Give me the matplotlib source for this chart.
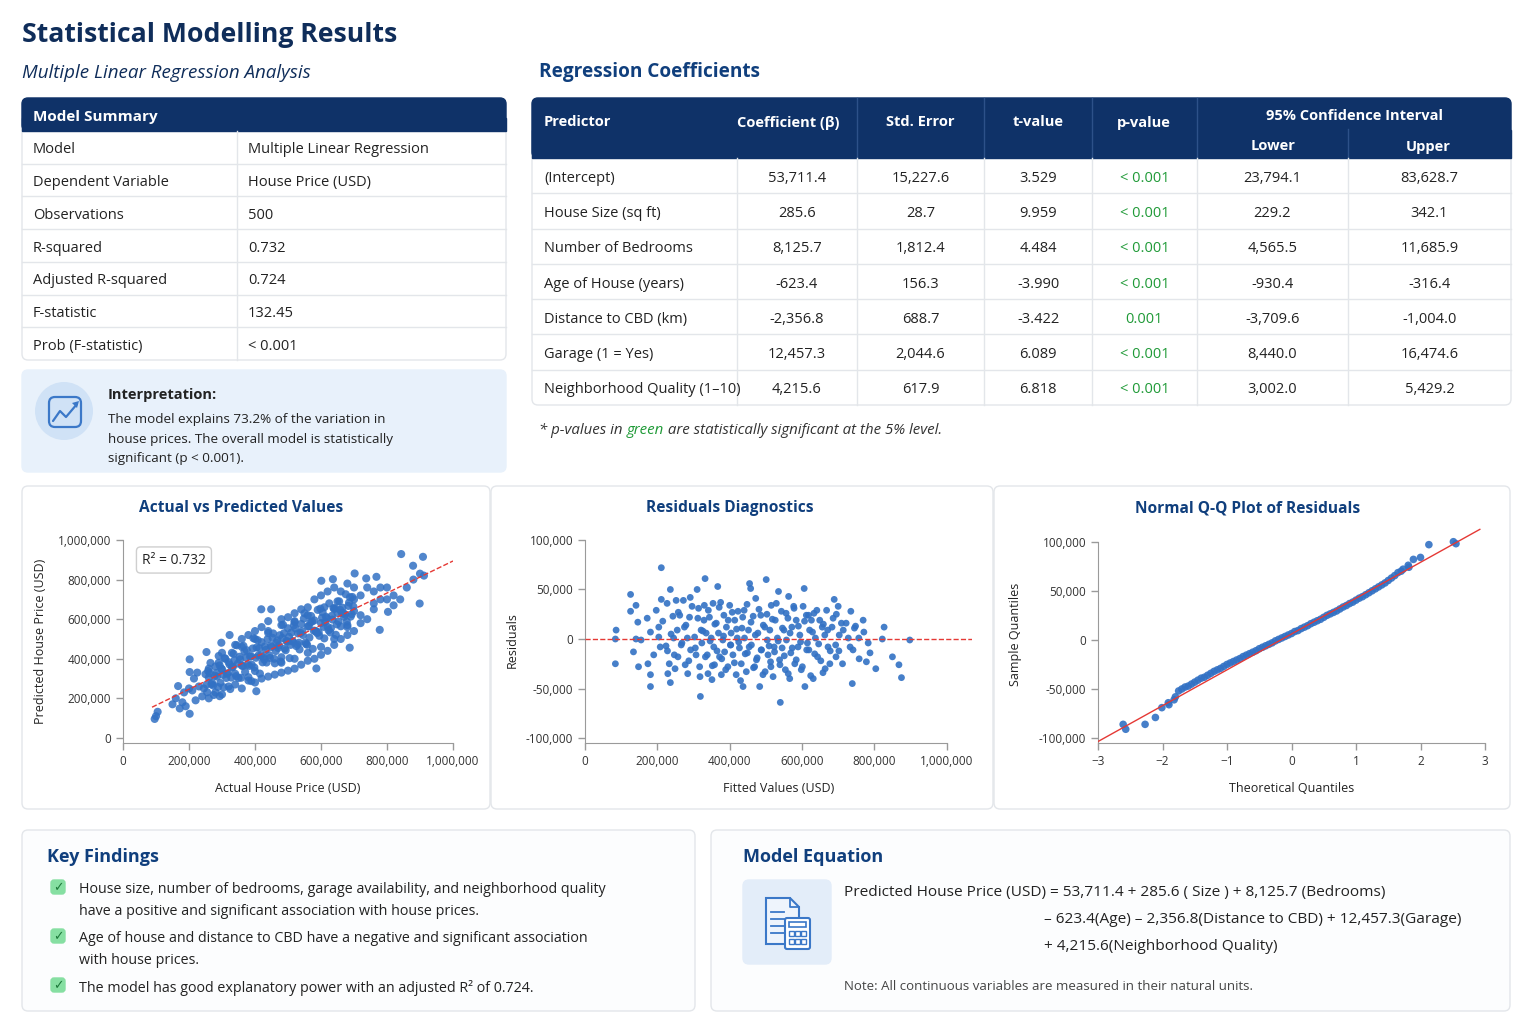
import matplotlib.pyplot as plt
from matplotlib.patches import FancyBboxPatch, Rectangle, Circle, Polygon
from matplotlib.ticker import FuncFormatter, MultipleLocator

plt.rcParams['font.family'] = ['Open Sans', 'DejaVu Sans']

W, H = 1536, 1024
NAVY = '#0f3268'
TITLE = '#0f2d5a'
HEAD = '#103f7d'
TEXT = '#222222'
LINE = '#e3e6ea'
GREEN = '#1f9a37'
DOT = '#3271c4'

# ---------------- data ----------------
summary_labels = ['Model', 'Dependent Variable', 'Observations', 'R-squared',
                  'Adjusted R-squared', 'F-statistic', 'Prob (F-statistic)']
summary_values = ['Multiple Linear Regression', 'House Price (USD)', '500', '0.732',
                  '0.724', '132.45', '< 0.001']

predictors = ['(Intercept)', 'House Size (sq ft)', 'Number of Bedrooms', 'Age of House (years)',
              'Distance to CBD (km)', 'Garage (1 = Yes)', 'Neighborhood Quality (1–10)']
coefs = ['53,711.4', '285.6', '8,125.7', '-623.4', '-2,356.8', '12,457.3', '4,215.6']
std_errs = ['15,227.6', '28.7', '1,812.4', '156.3', '688.7', '2,044.6', '617.9']
t_values = ['3.529', '9.959', '4.484', '-3.990', '-3.422', '6.089', '6.818']
p_values = ['< 0.001', '< 0.001', '< 0.001', '< 0.001', '0.001', '< 0.001', '< 0.001']
ci_lower = ['23,794.1', '229.2', '4,565.5', '-930.4', '-3,709.6', '8,440.0', '3,002.0']
ci_upper = ['83,628.7', '342.1', '11,685.9', '-316.4', '-1,004.0', '16,474.6', '5,429.2']

# actual vs predicted (thousands of USD)
actual_k = [96, 105, 100, 167, 172, 202, 202, 202, 253, 293, 298, 323, 389, 404, 419, 449, 586, 601,
            636, 687, 702, 737, 768, 778, 803, 843, 879, 899, 909, 912, 180, 190, 150, 160, 210, 220,
            230, 240, 200, 215, 185, 225, 245, 260, 280, 300, 320, 340, 360, 380, 300, 340, 360, 380,
            400, 420, 440, 480, 500, 520, 540, 560, 580, 600, 620, 640, 660, 680, 700, 720, 740, 760,
            780, 800, 820, 840, 860, 880, 900, 760, 740, 720, 700, 680, 660, 640, 620, 600, 580, 560,
            540, 520, 500, 480, 460, 440, 420, 400, 820, 780, 700, 650, 610, 560, 520, 480, 440, 400,
            360, 330, 290, 260, 480, 520, 560, 600, 640, 680, 720, 760, 800,
            250, 255, 260, 265, 270, 275, 280, 285, 290, 295, 300, 305, 310, 315, 320, 325, 330, 335,
            340, 345, 350, 355, 360, 365, 370, 375, 380, 385, 390, 395, 400, 405, 410, 415, 420, 425,
            430, 435, 440, 445, 450, 455, 460, 465, 470, 475, 480, 485, 490, 495, 500, 505, 510, 515,
            520, 525, 530, 535, 540, 545, 550, 555, 560, 565, 570, 575, 580, 585, 590, 595, 600, 605,
            610, 615, 620, 625, 630, 635, 640, 645, 650, 655, 660, 665, 670, 675, 680, 685, 690, 695,
            700,
            253, 263, 273, 283, 293, 303, 313, 323, 333, 343, 353, 363, 373, 383, 393, 403, 413, 423,
            433, 443, 453, 463, 473, 483, 493, 503, 513, 523, 533, 543, 553, 563, 573, 583, 593, 603,
            613, 623, 633, 643, 653, 663, 673, 683, 693,
            258, 268, 278, 288, 298, 308, 318, 328, 338, 348, 358, 368, 378, 388, 398, 408, 418, 428,
            438, 448, 458, 468, 478, 488, 498, 508, 518, 528, 538, 548, 558, 568, 578, 588, 598, 608,
            618, 628, 638, 648, 658, 668, 678, 688, 698]
predicted_k = [96, 132, 110, 262, 149, 122, 333, 397, 434, 211, 481, 520, 287, 236, 650, 650, 351, 794,
               802, 456, 831, 806, 814, 546, 637, 929, 870, 679, 915, 820, 180, 160, 170, 200, 240, 190,
               260, 210, 250, 300, 230, 330, 250, 200, 230, 220, 260, 270, 250, 290, 430, 470, 500, 520,
               540, 560, 590, 600, 610, 630, 650, 660, 700, 720, 740, 760, 740, 780, 760, 720, 760, 740,
               700, 760, 720, 700, 760, 800, 830, 650, 600, 580, 540, 520, 500, 470, 440, 420, 400, 390,
               370, 350, 340, 330, 320, 310, 300, 280, 670, 760, 700, 690, 660, 620, 590, 570, 540, 500,
               460, 430, 380, 350, 380, 400, 430, 460, 500, 560, 620, 680, 700,
               322, 231, 305, 379, 278, 217, 361, 310, 414, 278, 347, 256, 400, 324, 383, 247, 356, 425,
               324, 468, 303, 397, 366, 465, 334, 443, 307, 411, 370, 504, 338, 457, 416, 325, 484, 408,
               462, 381, 530, 404, 459, 528, 377, 481, 455, 519, 408, 572, 451, 490, 554, 403, 532, 486,
               585, 464, 528, 447, 576, 520, 630, 474, 563, 507, 616, 450, 594, 538, 647, 516, 580, 634,
               503, 612, 561, 680, 554, 598, 652, 521, 631, 690, 564, 658, 612, 726, 570, 684, 613, 712,
               641,
               269, 327, 265, 328, 366, 319, 303, 371, 359, 312, 410, 363, 406, 364, 452, 405, 454, 382,
               445, 418, 506, 439, 467, 505, 443, 511, 490, 553, 481, 539, 482, 565, 588, 541, 534, 607,
               586, 544, 617, 655, 588, 631, 624, 667, 625,
               338, 271, 314, 257, 350, 403, 327, 305, 393, 376, 304, 437, 370, 413, 356, 494, 418, 396,
               499, 467, 400, 493, 386, 529, 487, 470, 569, 472, 530, 603, 471, 584, 542, 530, 653, 561,
               605, 533, 656, 574, 647, 630, 588, 711, 664]
fit_intercept = 84000
fit_slope = 0.81
fit_x = [88000, 1000000]

# residuals vs fitted (thousands of USD)
fitted_k = [84, 84, 86, 126, 126, 141, 134, 146, 148, 141, 155, 172, 174, 181, 181, 181, 190, 197, 204,
            204, 208, 211, 211, 224, 227, 229, 233, 236, 236, 243, 245, 247, 252, 255, 257, 262, 266,
            272, 275, 277, 283, 284, 289, 291, 292, 303, 307, 310, 314, 317, 319, 321, 323, 329, 330,
            332, 335, 338, 340, 344, 349, 351, 354, 356, 358, 363, 367, 369, 372, 375, 377, 381, 384,
            386, 391, 395, 400, 403, 404, 409, 414, 418, 421, 423, 427, 432, 434, 437, 440, 441, 446,
            449, 452, 455, 458, 460, 465, 469, 472, 474, 478, 483, 486, 488, 492, 497, 501, 504, 506,
            511, 514, 515, 520, 523, 526, 532, 535, 538, 540, 543, 545, 550, 554, 557, 561, 563, 566,
            569, 572, 577, 580, 584, 589, 594, 598, 603, 606, 608, 612, 615, 619, 621, 626, 631, 633,
            637, 643, 649, 656, 658, 663, 668, 672, 677, 683, 689, 693, 695, 700, 702, 709, 714, 728,
            735, 739, 741, 748, 757, 769, 778, 783, 804, 822, 827, 850, 868, 875, 898,
            215, 228, 238, 249, 258, 268, 279, 287, 296, 305, 312, 318, 326, 333, 341, 346, 352, 359,
            365, 371, 378, 383, 389, 396, 402, 407, 413, 419, 425, 430, 436, 443, 448, 454, 459, 466,
            471, 476, 481, 487, 493, 498, 503, 509, 513, 518, 524, 529, 534, 539, 546, 551, 556, 562,
            567, 573, 578, 584, 590, 596, 601, 607, 613, 618, 624, 629, 635, 641, 646, 652, 659, 664,
            671, 678, 686, 694, 703, 712, 722, 733, 745, 758, 771, 788]
resid_k = [0, -25, 9, 45, 28, 34, -13, 17, -28, 0, -1, 21, -25, 7, -36, -48, -16, 29, 12, 2, -8, 72, 40,
           -7, 36, -35, -25, 50, -44, 23, 1, -16, 39, 9, -18, 24, -6, 39, 12, -26, 1, -35, 22, 42, -11,
           2, -16, 50, 31, -28, -58, 9, -4, 19, 34, 61, 6, -16, -35, 22, 1, -41, 36, -8, -26, 16, 53,
           6, -18, 37, -36, -1, 24, -13, 12, -28, 34, -6, 6, -16, 19, -36, 1, 28, -9, -25, 11, -48, 29,
           1, -33, -14, 9, 56, 51, -6, 23, -28, 41, -21, 6, -48, 24, -11, -36, 12, 60, -1, -16, 9, -28,
           34, -38, -8, 19, 1, 48, -21, -64, 28, -9, 9, -31, -1, 21, 43, -40, -14, 12, 33, -25, 19, -8,
           4, -31, 33, 51, -48, 24, -4, -11, 9, 19, -40, 26, 1, -18, 19, 12, -34, 4, 29, -8, -25, 12,
           40, -6, 25, 33, -12, 16, 9, 1, 28, -45, -11, 13, 1, 19, -23, -4, -30, 0, 12, -18, -26, -39, -1,
           18, -12, 5, -30, 27, -4, 14, -22, 33, -9, 21, -38, 8, -18, 29, -2, -27, 15, -12, 32,
           -20, 3, -31, 19, -6, 27, -24, 10, -3, -42, 22, -15, 35, -8, 17, -29, 4, -19, 30, -11,
           14, -33, 25, -7, -23, 20, -13, 36, -2, -26, 11, -17, 26, -35, 6, -9, 31, -21, 13, -3,
           -28, 18, -11, 24, -37, 7, -15, 29, -5, -22, 15, -30, 9, -12, 21, -18, 4, -25, 16, -8,
           11, -20, 7, -14]

# normal Q-Q plot
theoretical_q = [-2.61, -2.57, -2.27, -2.11, -2.01, -1.91, -1.90, -1.82, -1.80,
                 -1.75, -1.70, -1.65, -1.60, -1.55, -1.50, -1.45, -1.40, -1.35, -1.30, -1.25, -1.20,
                 -1.15, -1.10, -1.05, -1.00, -0.95, -0.90, -0.85, -0.80, -0.75, -0.70, -0.65, -0.60,
                 -0.55, -0.50, -0.45, -0.40, -0.35, -0.30, -0.25, -0.20, -0.15, -0.10, -0.05, 0.00,
                 0.05, 0.10, 0.15, 0.20, 0.25, 0.30, 0.35, 0.40, 0.45, 0.50, 0.55, 0.60, 0.65, 0.70,
                 0.75, 0.80, 0.85, 0.90, 0.95, 1.00, 1.05, 1.10, 1.15, 1.20, 1.25, 1.30, 1.35, 1.40,
                 1.45, 1.50, 1.55, 1.60, 1.65, 1.70, 1.73, 1.81, 1.82, 1.89, 2.00, 2.13, 2.51, 2.55]
sample_q_k = [-86, -91, -86, -79, -69, -64, -66, -61, -58,
              -52, -50, -48, -47, -45, -43, -41, -39, -38, -36, -34, -32,
              -30.5, -29, -27, -25, -23.5, -22, -20.5, -19, -17, -15.5, -14, -12.5,
              -11, -9, -7.5, -6, -4.5, -3, -1, 0.5, 2, 3.5, 5, 6.5,
              8.5, 9.5, 11.5, 13, 14.5, 16.5, 18, 19.5, 21, 23, 25, 26.5, 28, 29.5,
              31.5, 33.5, 35, 37, 38.5, 40.5, 42.5, 44, 46, 48, 50, 52, 54, 56,
              58, 60.5, 63, 65.5, 68.5, 70, 72, 76, 74, 82, 84, 97, 100, 98]
qq_intercept = 6000
qq_slope = 36500
qq_x = [-3.0, 2.92]

findings = [
    ['House size, number of bedrooms, garage availability, and neighborhood quality',
     'have a positive and significant association with house prices.'],
    ['Age of house and distance to CBD have a negative and significant association',
     'with house prices.'],
    ['The model has good explanatory power with an adjusted R² of 0.724.'],
]

# ---------------- figure ----------------
fig = plt.figure(figsize=(W / 100, H / 100), dpi=100, facecolor='white')
bg = fig.add_axes([0, 0, 1, 1])
bg.set_xlim(0, W)
bg.set_ylim(H, 0)
bg.axis('off')


def card(x0, y0, x1, y1, fc='white', ec=LINE, r=6, lw=1, z=1):
    p = FancyBboxPatch((x0, y0), x1 - x0, y1 - y0, boxstyle=f'round,pad=0,rounding_size={r}',
                       fc=fc, ec=ec, lw=lw, zorder=z)
    bg.add_patch(p)


def txt(x, y, s, size=10.5, color=TEXT, weight='normal', ha='left', style='normal', **kw):
    return bg.text(x, y + 2.5, s, fontsize=size, color=color, fontweight=weight, ha=ha, va='center',
                   style=style, zorder=5, **kw)


# titles
txt(22, 33, 'Statistical Modelling Results', size=19.2, color=TITLE, weight='bold')
txt(22, 70, 'Multiple Linear Regression Analysis', size=13.5, color=TITLE, style='italic')
txt(539, 70, 'Regression Coefficients', size=13.7, color=HEAD, weight='bold')

# model summary table
card(22, 98, 506, 360)
card(22, 98, 506, 131, fc=NAVY, ec=NAVY, z=2)
bg.add_patch(Rectangle((22, 118), 484, 13, fc=NAVY, ec=NAVY, zorder=2))
txt(33, 115, 'Model Summary', size=11, color='white', weight='bold')
row_h = (360 - 131) / len(summary_labels)
for i, (lab, val) in enumerate(zip(summary_labels, summary_values)):
    yc = 131 + row_h * (i + 0.5)
    txt(33, yc, lab, size=10.5)
    txt(248, yc, val, size=10.5)
    if i > 0:
        bg.plot([22, 506], [131 + row_h * i] * 2, color=LINE, lw=1, zorder=3)
bg.plot([237, 237], [131, 360], color=LINE, lw=1, zorder=3)

# interpretation box
card(22, 370, 506, 472, fc='#e8f1fb', ec='#e8f1fb')
bg.add_patch(Circle((64, 411), 29, fc='#d0e2f6', ec='none', zorder=3))
card(49, 397, 81, 427, fc='none', ec='#3b78c8', r=6, lw=1.6, z=4)
bg.plot([53, 60, 66, 77], [421, 411, 417, 404], color='#3b78c8', lw=1.6, zorder=4,
        solid_capstyle='round')
bg.add_patch(Polygon([[79, 401], [72, 403], [77, 408]], closed=True, fc='#3b78c8', ec='none', zorder=4))
txt(108, 393, 'Interpretation:', size=10.5, weight='bold')
txt(108, 417, 'The model explains 73.2% of the variation in', size=9.7)
txt(108, 437, 'house prices. The overall model is statistically', size=9.7)
txt(108, 456, 'significant (p < 0.001).', size=9.7)

# coefficient table
tx0, tx1 = 532, 1511
card(tx0, 98, tx1, 405)
card(tx0, 98, tx1, 158, fc=NAVY, ec=NAVY, z=2)
bg.add_patch(Rectangle((tx0, 130), tx1 - tx0, 28, fc=NAVY, ec=NAVY, zorder=2))
col_edges = [532, 737, 857, 984, 1092, 1197, 1348, 1511]
sep_head = '#2d5189'
for xe in [857, 984, 1092, 1197]:
    bg.plot([xe, xe], [98, 158], color=sep_head, lw=1, zorder=3)
bg.plot([1348, 1348], [129, 158], color=sep_head, lw=1, zorder=3)
txt(544, 120, 'Predictor', size=10.5, color='white', weight='bold')
txt(788, 120, 'Coefficient (β)', size=10.5, color='white', weight='bold', ha='center')
txt(920, 120, 'Std. Error', size=10.5, color='white', weight='bold', ha='center')
txt(1038, 120, 't-value', size=10.5, color='white', weight='bold', ha='center')
txt(1144, 120, 'p-value', size=10.5, color='white', weight='bold', ha='center')
txt(1354, 114, '95% Confidence Interval', size=10.5, color='white', weight='bold', ha='center')
txt(1273, 144, 'Lower', size=10.5, color='white', weight='bold', ha='center')
txt(1428, 144, 'Upper', size=10.5, color='white', weight='bold', ha='center')

crow_h = (405 - 158) / len(predictors)
for xe in col_edges[1:-1]:
    bg.plot([xe, xe], [158, 405], color=LINE, lw=1, zorder=3)
for i in range(len(predictors)):
    yc = 158 + crow_h * (i + 0.5)
    if i > 0:
        bg.plot([tx0, tx1], [158 + crow_h * i] * 2, color=LINE, lw=1, zorder=3)
    txt(544, yc, predictors[i], size=10.5)
    cols = [coefs[i], std_errs[i], t_values[i], p_values[i], ci_lower[i], ci_upper[i]]
    for j, v in enumerate(cols):
        xc = (col_edges[j + 1] + col_edges[j + 2]) / 2
        txt(xc, yc, v, size=10.5, ha='center', color=GREEN if j == 3 else TEXT)

# footnote with coloured word
t1 = txt(539, 428, '* p-values in ', size=10.8, color='#333333', style='italic')
t2 = bg.annotate('green', xy=(1, 0), xycoords=t1, ha='left', va='bottom', fontsize=10.8,
                 color=GREEN, style='italic', zorder=5)
bg.annotate(' are statistically significant at the 5% level.', xy=(1, 0), xycoords=t2,
            ha='left', va='bottom', fontsize=10.8, color='#333333', style='italic', zorder=5)

# plot cards
card(22, 486, 490, 809)
card(491, 486, 993, 809)
card(994, 486, 1510, 809)
txt(241, 506, 'Actual vs Predicted Values', size=11.2, color=HEAD, weight='bold', ha='center')
txt(730, 506, 'Residuals Diagnostics', size=11.2, color=HEAD, weight='bold', ha='center')
txt(1248, 506, 'Normal Q-Q Plot of Residuals', size=11.2, color=HEAD, weight='bold', ha='center')

comma = FuncFormatter(lambda v, p: f'{v:,.0f}')


def style_axes(ax):
    for s in ['top', 'right']:
        ax.spines[s].set_visible(False)
    for s in ['left', 'bottom']:
        ax.spines[s].set_color('#9a9a9a')
    ax.tick_params(colors='#9a9a9a', labelcolor='#333333', labelsize=8.5, length=5, width=1)
    ax.patch.set_alpha(0)


def fax(x0, y0, x1, y1):
    return fig.add_axes([x0 / W, (H - y1) / H, (x1 - x0) / W, (y1 - y0) / H])


# actual vs predicted
ax1 = fax(123, 540, 453, 743)
style_axes(ax1)
ax1.scatter([a * 1000 for a in actual_k], [p * 1000 for p in predicted_k], s=34, color=DOT,
            alpha=0.85, edgecolors='none', zorder=2)
ax1.plot(fit_x, [fit_intercept + fit_slope * x for x in fit_x], color='#e53935', ls='--',
         lw=1, zorder=3)
ax1.set_xlim(0, 1e6)
ax1.set_ylim(-25600, 1e6)
ax1.xaxis.set_major_locator(MultipleLocator(200000))
ax1.yaxis.set_major_locator(MultipleLocator(200000))
ax1.xaxis.set_major_formatter(comma)
ax1.yaxis.set_major_formatter(comma)
ax1.set_xlabel('Actual House Price (USD)', fontsize=9, color='#222222', labelpad=10)
ax1.set_ylabel('Predicted House Price (USD)', fontsize=9, color='#222222', labelpad=8)
bg.text(142, 560, 'R² = 0.732', fontsize=10, color='#222222', va='center', zorder=6,
        bbox=dict(boxstyle='round,pad=0.4,rounding_size=0.3', fc='white', ec='#cfcfcf', lw=1))

# residuals
ax2 = fax(585, 537, 972, 743)
style_axes(ax2)
ax2.scatter([f * 1000 for f in fitted_k], [r * 1000 for r in resid_k], s=24, color=DOT,
            alpha=0.9, edgecolors='none', zorder=2)
ax2.axhline(0, color='#e53935', ls='--', lw=1, zorder=3)
ax2.set_xlim(0, 1.07e6)
ax2.set_ylim(-105000, 103000)
ax2.spines['bottom'].set_bounds(0, 1e6)
ax2.spines['left'].set_bounds(-105000, 100000)
ax2.xaxis.set_major_locator(MultipleLocator(200000))
ax2.set_yticks([-100000, -50000, 0, 50000, 100000])
ax2.xaxis.set_major_formatter(comma)
ax2.yaxis.set_major_formatter(comma)
ax2.set_xlabel('Fitted Values (USD)', fontsize=9, color='#222222', labelpad=10)
ax2.set_ylabel('Residuals', fontsize=9, color='#222222', labelpad=5)

# Q-Q
ax3 = fax(1098, 526, 1485, 743)
style_axes(ax3)
ax3.scatter(theoretical_q, [s * 1000 for s in sample_q_k], s=30, color=DOT, alpha=0.9,
            edgecolors='none', zorder=2)
ax3.plot(qq_x, [qq_intercept + qq_slope * x for x in qq_x], color='#e53935', lw=1, zorder=3)
ax3.set_xlim(-3, 3)
ax3.set_ylim(-105000, 116000)
ax3.spines['left'].set_bounds(-105000, 100000)
ax3.set_xticks([-3, -2, -1, 0, 1, 2, 3])
ax3.set_yticks([-100000, -50000, 0, 50000, 100000])
ax3.yaxis.set_major_formatter(comma)
ax3.set_xlabel('Theoretical Quantiles', fontsize=9, color='#222222', labelpad=10)
ax3.set_ylabel('Sample Quantiles', fontsize=9, color='#222222', labelpad=12)

# key findings
card(22, 830, 695, 1011, fc='#fcfdfe')
txt(47, 854, 'Key Findings', size=13, color=HEAD, weight='bold')
y = 887
for lines in findings:
    card(51, y - 7, 65, y + 7, fc='#86dfa2', ec='#86dfa2', r=3, z=3)
    bg.text(58, y + 0.5, '✓', fontsize=9, color='#1d7a3a', ha='center', va='center', zorder=5,
            family='DejaVu Sans')
    for k, line in enumerate(lines):
        txt(79, y + 22 * k, line, size=10.3)
    y += 22 * len(lines) + 5

# model equation
card(711, 830, 1510, 1011, fc='#fcfdfe')
txt(743, 854, 'Model Equation', size=13, color=HEAD, weight='bold')
card(743, 880, 831, 964, fc='#e3edf9', ec='#e3edf9', r=6, z=2)
ic = '#3b78c8'
bg.add_patch(Polygon([[766, 898], [790, 898], [799, 907], [799, 944], [766, 944]], closed=True,
                     fc='#eef4fc', ec=ic, lw=1.5, zorder=3))
bg.plot([790, 790, 799], [898, 907, 907], color=ic, lw=1.3, zorder=3)
for yy in [912, 919, 926, 933]:
    bg.plot([771, 784], [yy, yy], color=ic, lw=1.3, zorder=3)
card(785, 918, 810, 949, fc='white', ec=ic, r=2, lw=1.5, z=4)
bg.add_patch(Rectangle((789, 922), 17, 5, fc='none', ec=ic, lw=1.2, zorder=5))
for bx in [789, 795, 801]:
    for by in [931, 939]:
        bg.add_patch(Rectangle((bx, by), 4.5, 5, fc='none', ec=ic, lw=1, zorder=5))
txt(844, 890, 'Predicted House Price (USD) = 53,711.4 + 285.6 ( Size ) + 8,125.7 (Bedrooms)', size=11.1)
txt(1044, 917, '– 623.4(Age) – 2,356.8(Distance to CBD) + 12,457.3(Garage)', size=11.1)
txt(1044, 944, '+ 4,215.6(Neighborhood Quality)', size=11.1)
txt(844, 984, 'Note: All continuous variables are measured in their natural units.', size=9.5,
    color='#444444')

fig.savefig('out.png', dpi=100, facecolor='white')
